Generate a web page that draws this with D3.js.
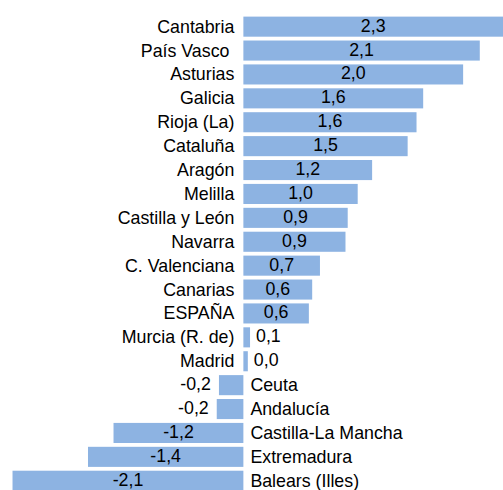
<!DOCTYPE html>
<html>
<head>
<meta charset="utf-8">
<script src="https://d3js.org/d3.v7.min.js"></script>
<title>Comunidades</title>
</head>
<style>
body { margin: 0; background: #fff; }
svg { display: block; }
text { font-family: "Liberation Sans", Arial, sans-serif; font-size: 17.8px; fill: #000; white-space: pre; }
</style>
<body>
<svg width="503" height="490"></svg>
</body>
<script>

// regions, top to bottom
let regions = ["Cantabria", "País Vasco ", "Asturias", "Galicia", "Rioja (La)", "Cataluña",
  "Aragón", "Melilla", "Castilla y León", "Navarra", "C. Valenciana", "Canarias", "ESPAÑA",
  "Murcia (R. de)", "Madrid", "Ceuta", "Andalucía", "Castilla-La Mancha", "Extremadura",
  "Balears (Illes)"];

let values = [2.34, 2.13, 1.98, 1.62, 1.56, 1.48, 1.16, 1.03, 0.94, 0.92, 0.69, 0.62, 0.59,
  0.06, 0.04, -0.22, -0.24, -1.17, -1.40, -2.08];

let barColor = "#8db3e2";

let data = regions.map(function(r, i){ return {name: r, value: values[i]}; });

let locale = d3.formatLocale({decimal: ",", thousands: ".", grouping: [3], currency: ["", "€"], minus: "-"});
let fmt = locale.format(".1f");

let svg = d3.select("svg");

let x = d3.scaleLinear().domain([-2.2, 2.35]).range([-0.8, 504.2]);
let y = d3.scaleBand().domain(regions).range([14.7, 492.7]).paddingInner(0.16).paddingOuter(0.08);

let x0 = x(0);

svg.selectAll("rect.bar")
  .data(data)
  .enter().append("rect")
  .attr("class", "bar")
  .attr("x", function(d){ return Math.min(x(d.value), x0); })
  .attr("y", function(d){ return y(d.name); })
  .attr("width", function(d){ return Math.abs(x(d.value) - x0); })
  .attr("height", y.bandwidth())
  .attr("fill", barColor);

// category labels on the opposite side of the zero line
svg.selectAll("text.cat")
  .data(data)
  .enter().append("text")
  .attr("class", "cat")
  .attr("x", function(d){ return d.value >= 0 ? x0 - 9 : x0 + 7; })
  .attr("y", function(d){ return y(d.name) + y.bandwidth()/2; })
  .attr("dominant-baseline", "central")
  .attr("text-anchor", function(d){ return d.value >= 0 ? "end" : "start"; })
  .text(function(d){ return d.name; });

// value labels: centered in bar, outside if the bar is too short
function inside(d){ return Math.abs(x(d.value) - x0) > 40; }

svg.selectAll("text.val")
  .data(data)
  .enter().append("text")
  .attr("class", "val")
  .attr("x", function(d){
    if (inside(d)) return (x(d.value) + x0)/2;
    return d.value >= 0 ? x(d.value) + 6 : x(d.value) - 8;
  })
  .attr("y", function(d){ return y(d.name) + y.bandwidth()/2 - 1; })
  .attr("dominant-baseline", "central")
  .attr("text-anchor", function(d){
    if (inside(d)) return "middle";
    return d.value >= 0 ? "start" : "end";
  })
  .text(function(d){ return fmt(d.value); });

</script>
</html>
